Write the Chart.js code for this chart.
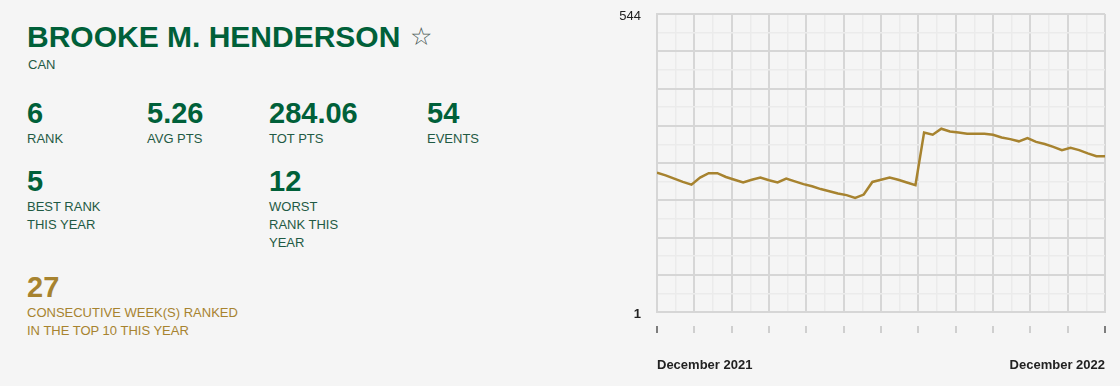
<!DOCTYPE html>
<html>
<head>
<meta charset="utf-8">
<script src="https://cdn.jsdelivr.net/npm/chart.js@4/dist/chart.umd.min.js"></script>
<style>
  html, body { margin: 0; padding: 0; background: #f5f5f5; }
  body { width: 1120px; height: 386px; position: relative; overflow: hidden;
         font-family: "Liberation Sans", Arial, sans-serif; }
  .abs { position: absolute; white-space: nowrap; }
  .title { left: 27px; top: 18px; font-size: 30px; font-weight: bold; color: #006039; line-height: 36px; }
  .star { font-size: 25px; font-weight: normal; color: #4a5a55; margin-left: 10px; vertical-align: 2px; }
  .country { left: 28px; top: 57px; font-size: 13px; color: #1f5a44; }
  .num { font-size: 29px; font-weight: bold; color: #006039; line-height: 30px; }
  .lbl { font-size: 13px; color: #1f5a44; line-height: 18px; margin-top: 2px; }
  .gold { color: #a7832f; }
  #wrap { position: absolute; left: 590px; top: 0; width: 530px; height: 386px; }
</style>
</head>
<body>
<div class="abs title">BROOKE M. HENDERSON<span class="star">☆</span></div>
<div class="abs country">CAN</div>

<div class="abs" style="left:27px;top:98px"><div class="num">6</div><div class="lbl">RANK</div></div>
<div class="abs" style="left:147px;top:98px"><div class="num">5.26</div><div class="lbl">AVG PTS</div></div>
<div class="abs" style="left:269px;top:98px"><div class="num">284.06</div><div class="lbl">TOT PTS</div></div>
<div class="abs" style="left:427px;top:98px"><div class="num">54</div><div class="lbl">EVENTS</div></div>

<div class="abs" style="left:27px;top:166px"><div class="num">5</div><div class="lbl">BEST RANK<br>THIS YEAR</div></div>
<div class="abs" style="left:269px;top:166px"><div class="num">12</div><div class="lbl">WORST<br>RANK THIS<br>YEAR</div></div>

<div class="abs" style="left:27px;top:272px"><div class="num gold">27</div><div class="lbl gold">CONSECUTIVE WEEK(S) RANKED<br>IN THE TOP 10 THIS YEAR</div></div>

<div id="wrap"><canvas id="rankChart"></canvas></div>

<script>
// weekly values, Dec 2021 -> Dec 2022
const weekValues = [255, 250, 244, 238, 233, 246, 254, 254, 247, 242, 237, 242, 246, 241, 237, 244,
  239, 234, 230, 225, 221, 217, 214, 209, 215, 238, 242, 246, 242, 237, 232, 328, 324, 335, 330, 328,
  326, 326, 326, 324, 319, 316, 312, 318, 311, 307, 302, 296, 300, 296, 290, 285, 285];
const weekIndex = weekValues.map((v, i) => i);
const xLabels = ['December 2021', 'December 2022'];
const yMin = 1;
const yMax = 544;

const lineColor = '#a7832f';
const majorGrid = '#d6d6d6';
const minorGrid = '#ebebeb';

// 12 major columns, each split in two
const xSteps = 24;
const ySteps = 16;

new Chart(document.getElementById('rankChart'), {
  type: 'line',
  data: {
    labels: weekIndex,
    datasets: [{
      data: weekIndex.map((x, i) => ({ x: x, y: weekValues[i] })),
      borderColor: lineColor,
      borderWidth: 2.5,
      pointRadius: 0,
      tension: 0,
      fill: false
    }]
  },
  options: {
    responsive: true,
    maintainAspectRatio: false,
    animation: false,
    layout: { padding: { top: 14, right: 15, bottom: 0, left: 0 } },
    plugins: { legend: { display: false }, tooltip: { enabled: false } },
    scales: {
      x: {
        type: 'linear',
        min: 0,
        max: weekValues.length - 1,
        afterBuildTicks: scale => {
          const span = weekValues.length - 1;
          scale.ticks = [];
          for (let k = 0; k <= xSteps; k++) scale.ticks.push({ value: k * span / xSteps });
        },
        afterFit: scale => {
          scale.height = 74;
          scale.paddingLeft = 0;
          scale.paddingRight = 0;
        },
        border: { display: true, color: majorGrid, width: 2 },
        grid: {
          color: ctx => (ctx.index % 2 === 0 ? majorGrid : minorGrid),
          lineWidth: ctx => (ctx.index % 2 === 0 ? 2 : 1.5),
          drawTicks: true,
          tickLength: 21,
          tickBorderDash: [0, 13, 8, 100],
          tickColor: ctx => {
            if (ctx.index % 2 === 1) return 'rgba(0,0,0,0)';
            if (ctx.index === 0 || ctx.index === xSteps) return '#555555';
            return '#cfcfcf';
          },
          tickWidth: ctx => (ctx.index === 0 || ctx.index === xSteps ? 1.5 : 2)
        },
        ticks: {
          autoSkip: false,
          maxRotation: 0,
          align: 'inner',
          padding: 25,
          color: '#222222',
          font: { family: '"Liberation Sans", Arial, sans-serif', size: 13, weight: 'bold' },
          callback: (v, i) => (i === 0 ? xLabels[0] : i === xSteps ? xLabels[1] : '')
        }
      },
      y: {
        type: 'linear',
        min: yMin,
        max: yMax,
        afterBuildTicks: scale => {
          scale.ticks = [];
          for (let k = 0; k <= ySteps; k++) scale.ticks.push({ value: yMin + k * (yMax - yMin) / ySteps });
        },
        afterFit: scale => {
          scale.width = 67;
          scale.paddingTop = 0;
          scale.paddingBottom = 0;
        },
        border: { display: true, color: majorGrid, width: 2 },
        grid: {
          color: ctx => (ctx.index % 2 === 0 ? majorGrid : minorGrid),
          lineWidth: ctx => (ctx.index % 2 === 0 ? 2 : 1.5),
          drawTicks: false
        },
        ticks: {
          autoSkip: false,
          padding: 16,
          labelOffset: 2,
          color: '#222222',
          font: ctx => ({ family: '"Liberation Sans", Arial, sans-serif', size: 13,
                          weight: ctx.index === 0 ? 'bold' : 'normal' }),
          callback: (v, i) => (i === 0 ? String(yMin) : i === ySteps ? String(yMax) : '')
        }
      }
    }
  }
});
</script>
</body>
</html>
